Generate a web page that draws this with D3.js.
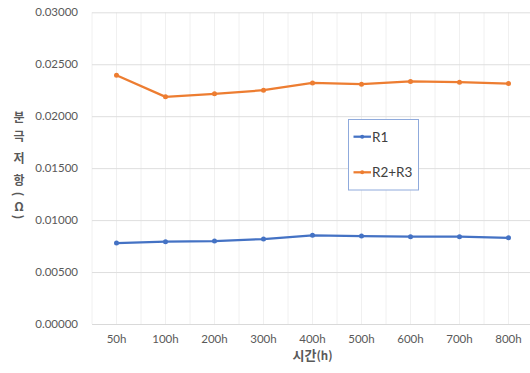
<!DOCTYPE html>
<html>
<head>
<meta charset="utf-8">
<script src="https://cdn.jsdelivr.net/npm/d3@7"></script>
<style>
  html, body { margin: 0; padding: 0; background: #fff; }
  svg { display: block; }
</style>
</head>
<body>
<svg id="chart" width="530" height="373"></svg>
<script>
// Polarization resistance over time
const categories = ["50h", "100h", "200h", "300h", "400h", "500h", "600h", "700h", "800h"];
const r1Values = [0.00779, 0.00792, 0.00798, 0.00817, 0.00853, 0.00846, 0.00840, 0.00840, 0.00830];
const r23Values = [0.02394, 0.02186, 0.02215, 0.02250, 0.02320, 0.02308, 0.02334, 0.02327, 0.02314];
const yTicks = [0, 0.005, 0.01, 0.015, 0.02, 0.025, 0.03];
const seriesNames = ["R1", "R2+R3"];
const seriesColors = ["#4472c4", "#ed7d31"];

const svg = d3.select("#chart");
const plot = { left: 92, right: 533, top: 12.3, bottom: 324 };

const x = d3.scaleBand().domain(categories).range([plot.left, plot.right]).padding(0);
const y = d3.scaleLinear().domain([0, 0.03]).range([plot.bottom, plot.top]);

// vertical gridlines at band centres and band boundaries
const vLines = [];
categories.forEach(c => { vLines.push(x(c)); vLines.push(x(c) + x.bandwidth() / 2); });
vLines.push(plot.right);
svg.append("g").selectAll("line").data(vLines).join("line")
  .attr("x1", d => d).attr("x2", d => d)
  .attr("y1", plot.top).attr("y2", plot.bottom)
  .attr("stroke", "#f0f0f0").attr("stroke-width", 1);

// horizontal gridlines + y labels
const yAxis = d3.axisLeft(y).tickValues(yTicks).tickFormat(d3.format(".5f"))
  .tickSize(-(plot.right - plot.left)).tickPadding(14);
const gy = svg.append("g").attr("transform", `translate(${plot.left},0)`).call(yAxis);
gy.select(".domain").remove();
gy.selectAll(".tick line").attr("stroke", "#dedede").attr("stroke-width", 1);
gy.selectAll(".tick text")
  .attr("fill", "#595959").attr("font-family", "Lato, 'Open Sans', sans-serif").attr("font-size", 11.5);

// x axis
const xAxis = d3.axisBottom(x).tickSize(0).tickPadding(11);
const gx = svg.append("g").attr("transform", `translate(0,${plot.bottom})`).call(xAxis);
gx.select(".domain").attr("stroke", "#d9d9d9");
gx.selectAll(".tick text")
  .attr("fill", "#595959").attr("font-family", "Lato, 'Open Sans', sans-serif").attr("font-size", 11.5);

// series lines
const cx = c => x(c) + x.bandwidth() / 2;
[r1Values, r23Values].forEach((vals, i) => {
  const pts = categories.map((c, j) => [cx(c), y(vals[j])]);
  svg.append("path").attr("d", d3.line()(pts))
    .attr("fill", "none").attr("stroke", seriesColors[i])
    .attr("stroke-width", 2.25).attr("stroke-linejoin", "round");
  svg.append("g").selectAll("circle").data(pts).join("circle")
    .attr("cx", d => d[0]).attr("cy", d => d[1]).attr("r", 2.5)
    .attr("fill", seriesColors[i]);
});

// x axis title
const xt = svg.append("text")
  .attr("x", 312.5).attr("y", 360)
  .attr("text-anchor", "middle")
  .attr("fill", "#595959").attr("font-weight", "bold")
  .attr("font-family", "'Noto Sans CJK KR', sans-serif").attr("font-size", 13);
xt.append("tspan").text("시간");
xt.append("tspan").attr("font-size", 11.5).text("(h)");

// y axis title, stacked vertically: hangul and Ω upright, parentheses turned
const yTitle = [
  { ch: "분", cy: 116.5, rot: false },
  { ch: "극", cy: 135, rot: false },
  { ch: "저", cy: 157, rot: false },
  { ch: "항", cy: 179, rot: false },
  { ch: "(", cy: 194, rot: true },
  { ch: "Ω", cy: 205.5, rot: false },
  { ch: ")", cy: 217, rot: true }
];
svg.append("g").selectAll("text").data(yTitle).join("text")
  .attr("transform", d => `translate(19,${d.cy})` + (d.rot ? " rotate(90)" : ""))
  .attr("text-anchor", "middle").attr("dominant-baseline", "central")
  .attr("fill", "#595959").attr("font-weight", "bold")
  .attr("font-family", "'Noto Sans CJK KR', sans-serif").attr("font-size", 12)
  .text(d => d.ch);

// legend
const lg = svg.append("g");
lg.append("rect").attr("x", 348.5).attr("y", 119.5).attr("width", 70).attr("height", 70.5)
  .attr("fill", "#fff").attr("stroke", "#8faadc").attr("stroke-width", 1);
seriesNames.forEach((name, i) => {
  const ly = [136.7, 172.3][i];
  lg.append("line").attr("x1", 353.5).attr("x2", 371).attr("y1", ly).attr("y2", ly)
    .attr("stroke", seriesColors[i]).attr("stroke-width", 2.25);
  lg.append("circle").attr("cx", 362.2).attr("cy", ly).attr("r", 2).attr("fill", seriesColors[i]);
  lg.append("text").attr("x", 372).attr("y", ly + 4.8)
    .attr("fill", "#404040").attr("font-family", "Lato, 'Open Sans', sans-serif").attr("font-size", 13.5)
    .text(name);
});
</script>
</body>
</html>
